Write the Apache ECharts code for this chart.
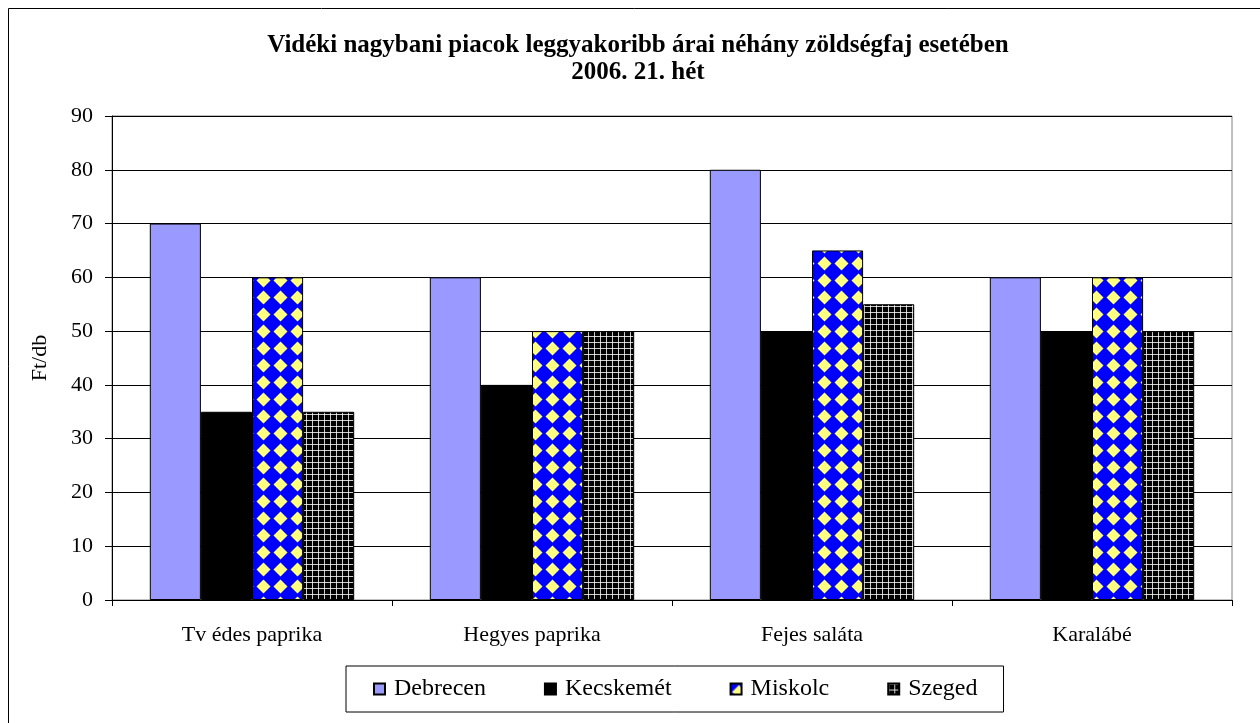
<!DOCTYPE html>
<html lang="hu">
<head>
    <meta charset="UTF-8" />
    <title>Vidéki nagybani piacok</title>
    <style>
        html, body { margin: 0; padding: 0; background: #fff; }
    </style>
</head>
<body>
<div id="main" style="width: 1260px; height: 723px;"></div>
<script src="https://cdn.jsdelivr.net/npm/echarts@6/dist/echarts.min.js"></script>
<script type="text/javascript">
    // adatok
    var categories = ['Tv édes paprika', 'Hegyes paprika', 'Fejes saláta', 'Karalábé'];
    var debrecen = [70, 60, 80, 60];
    var kecskemet = [35, 40, 50, 50];
    var miskolc = [60, 50, 65, 60];
    var szeged = [35, 50, 55, 50];
    var seriesNames = ['Debrecen', 'Kecskemét', 'Miskolc', 'Szeged'];

    var font = 'Liberation Serif, Times New Roman, serif';

    // mintázatok (kék alap, sárga rombuszok / fekete alap, fehér rács)
    function diamondPattern() {
        var c = document.createElement('canvas');
        c.width = 17; c.height = 17;
        var ctx = c.getContext('2d');
        ctx.fillStyle = '#0000ff';
        ctx.fillRect(0, 0, 17, 17);
        ctx.fillStyle = '#ffff80';
        ctx.beginPath();
        ctx.moveTo(8.5, 1.5);
        ctx.lineTo(15.5, 8.5);
        ctx.lineTo(8.5, 15.5);
        ctx.lineTo(1.5, 8.5);
        ctx.closePath();
        ctx.fill();
        return c;
    }
    function gridPattern() {
        var c = document.createElement('canvas');
        c.width = 6; c.height = 6;
        var ctx = c.getContext('2d');
        ctx.fillStyle = '#000000';
        ctx.fillRect(0, 0, 6, 6);
        ctx.fillStyle = 'rgba(255,255,255,0.8)';
        ctx.fillRect(0, 0, 6, 1);
        ctx.fillRect(0, 0, 1, 6);
        return c;
    }

    var colors = [
        '#9999ff',
        '#000000',
        { image: diamondPattern(), repeat: 'repeat' },
        { image: gridPattern(), repeat: 'repeat' }
    ];
    var values = [debrecen, kecskemet, miskolc, szeged];

    var series = [];
    for (var i = 0; i < seriesNames.length; i++) {
        series.push({
            name: seriesNames[i],
            type: 'bar',
            data: values[i],
            barGap: '0%',
            barCategoryGap: '27%',
            itemStyle: { color: colors[i], borderColor: '#000', borderWidth: 1 }
        });
    }

    var myChart = echarts.init(document.getElementById('main'));
    var option = {
        animation: false,
        backgroundColor: '#fff',
        title: {
            text: 'Vidéki nagybani piacok leggyakoribb árai néhány zöldségfaj esetében\n2006. 21. hét',
            left: 633,
            textAlign: 'center',
            top: 27,
            textStyle: { fontFamily: font, fontWeight: 'bold', fontSize: 25, lineHeight: 27, color: '#000' }
        },
        tooltip: { show: false },
        graphic: [
            { type: 'line', shape: { x1: 8.5, y1: 8.5, x2: 1270, y2: 8.5 }, style: { stroke: '#000', lineWidth: 1 } },
            { type: 'line', shape: { x1: 8.5, y1: 8.5, x2: 8.5, y2: 730 }, style: { stroke: '#000', lineWidth: 1 } }
        ],
        grid: {
            left: 112, right: 28, top: 116, bottom: 123,
            show: true, borderColor: '#808080', borderWidth: 1
        },
        legend: {
            data: seriesNames,
            left: 346,
            top: 666,
            itemWidth: 11,
            itemHeight: 11,
            itemGap: 58,
            padding: [11, 26, 11, 27],
            borderColor: '#000',
            borderWidth: 1,
            icon: 'rect',
            textStyle: { fontFamily: font, fontSize: 24, color: '#000', padding: [0, 0, 0, 4] }
        },
        xAxis: {
            type: 'category',
            data: categories,
            axisLine: { lineStyle: { color: '#000', width: 1 } },
            axisTick: { show: true, length: 6, lineStyle: { color: '#000' } },
            axisLabel: { fontFamily: font, fontSize: 22, color: '#000', margin: 24 }
        },
        yAxis: {
            type: 'value',
            min: 0,
            max: 90,
            interval: 10,
            name: 'Ft/db',
            nameLocation: 'middle',
            nameRotate: 90,
            nameGap: 61,
            nameTextStyle: { fontFamily: font, fontSize: 22, color: '#000' },
            axisLine: { show: true, lineStyle: { color: '#000', width: 1 } },
            axisTick: { show: true, length: 7, lineStyle: { color: '#000' } },
            axisLabel: { fontFamily: font, fontSize: 22, color: '#000', margin: 19 },
            splitLine: { show: true, lineStyle: { color: '#000', width: 1 } }
        },
        series: series
    };
    myChart.setOption(option);
</script>
</body>
</html>
